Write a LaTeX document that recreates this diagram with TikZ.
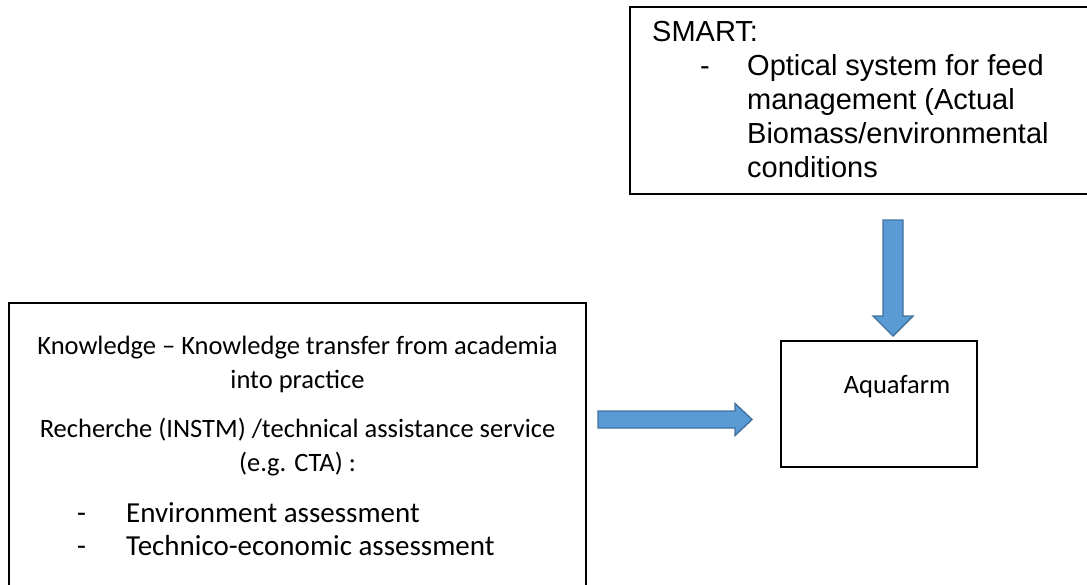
\documentclass[tikz,border=0pt]{standalone}
\usepackage{fontspec}
\setmainfont{Carlito}
\newfontfamily\arialfont{Liberation Sans}
\usetikzlibrary{calc}

\definecolor{arrowfill}{HTML}{5B9BD5}
\definecolor{arrowline}{HTML}{41719C}

\begin{document}
\begin{tikzpicture}[
  x=1pt, y=-1pt,
  box/.style={draw, line width=1.8pt, inner sep=0pt},
  body/.style={font=\fontsize{26.5}{34}\selectfont, inner sep=0pt},
  listtxt/.style={font=\fontsize{29}{33}\selectfont, inner sep=0pt, align=left, anchor=base west},
  smarttxt/.style={font=\arialfont\fontsize{29}{34}\selectfont, inner sep=0pt, align=left, anchor=base west},
  blockarrow/.style={fill=arrowfill, draw=arrowline, line width=1.4pt, line join=miter},
]
  \useasboundingbox (0,0) rectangle (1087,584);
  \clip (0,0) rectangle (1087,584);

  % Boxes
  \node[box, minimum width=462pt, minimum height=187pt] (smart) at (861,100.5) {};
  \node[box, minimum width=577pt, minimum height=297pt] (know) at (297.5,451.5) {};
  \node[box, minimum width=196pt, minimum height=126pt] (aqua) at (879,404) {};

  % SMART text (multi-line nodes sit on their last baseline)
  \node[smarttxt] (smart-title) at (652,41) {SMART:};
  \node[smarttxt] (smart-dash) at (700,75) {-};
  \node[smarttxt] (smart-item) at (747,177)
    {Optical system for feed\\management (Actual\\Biomass/environmental\\conditions};

  % Knowledge text
  \node[body, align=center, anchor=base] (kn-head) at (297.5,388)
    {Knowledge -- Knowledge transfer from academia\\into practice};
  \node[body, align=center, anchor=base] (kn-sub) at (297.5,471)
    {Recherche (INSTM) /technical assistance service\\(e.g. CTA) :};
  \node[listtxt] (kn-dash) at (77,555) {-\\-};
  \node[listtxt] (kn-items) at (126,555)
    {Environment assessment\\Technico-economic assessment};

  % Aquafarm text
  \node[body, anchor=base] (aqua-name) at (897,393) {Aquafarm};

  % Block arrows
  \coordinate (sm-tail) at (893,220);
  \coordinate (sm-tip) at (893,336);
  \coordinate (kn-tail) at (598,419.5);
  \coordinate (kn-tip) at (752,419.5);

  \draw[blockarrow] ($(sm-tail)+(-10,0)$) -- ($(sm-tail)+(10,0)$)
    -- ($(sm-tip)+(10,-20)$) -- ($(sm-tip)+(20,-20)$) -- (sm-tip)
    -- ($(sm-tip)+(-20,-20)$) -- ($(sm-tip)+(-10,-20)$) -- cycle;
  \draw[blockarrow] ($(kn-tail)+(0,-8.5)$) -- ($(kn-tip)+(-17,-8.5)$)
    -- ($(kn-tip)+(-17,-16)$) -- (kn-tip) -- ($(kn-tip)+(-17,16)$)
    -- ($(kn-tip)+(-17,8.5)$) -- ($(kn-tail)+(0,8.5)$) -- cycle;
\end{tikzpicture}
\end{document}
